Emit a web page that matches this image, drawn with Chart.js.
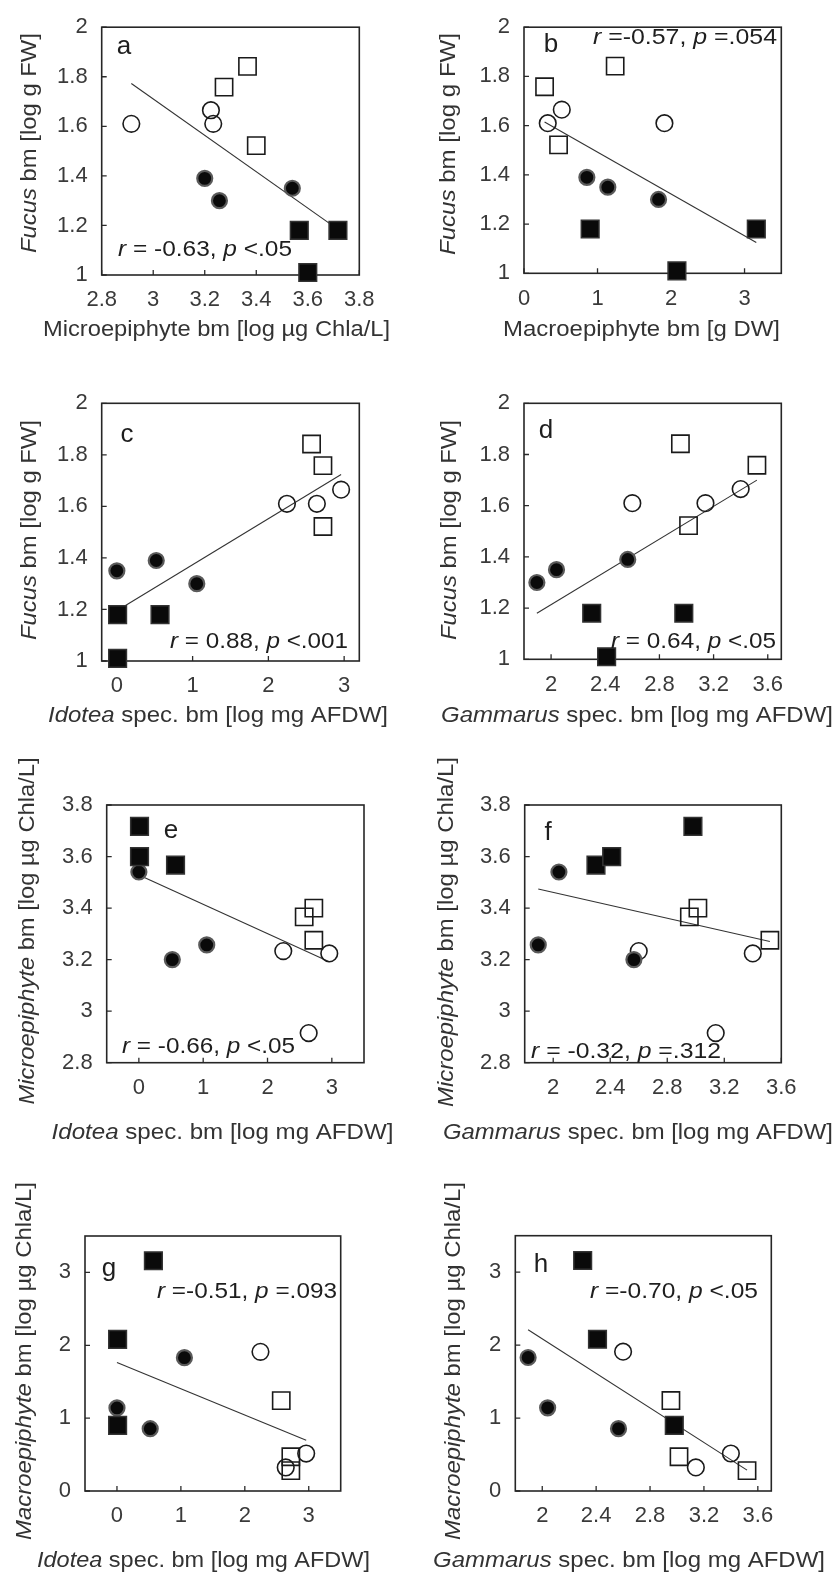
<!DOCTYPE html>
<html><head><meta charset="utf-8">
<script src="https://cdn.jsdelivr.net/npm/chart.js@4.4.0/dist/chart.umd.min.js"></script>
<style>
html,body{margin:0;padding:0;background:#fff;}
body{width:837px;height:1578px;position:relative;overflow:hidden;}
canvas{position:absolute;}
</style></head><body>
<script>
// ---- observations (12 mesocosms, 4 groups of 3) ----
const groups   = ['FS','FS','FS','FC','FC','FC','OC','OC','OC','OS','OS','OS'];
const fucus    = [1.18, 1.01, 1.18, 1.35, 1.39, 1.30, 1.61, 1.61, 1.665, 1.842, 1.758, 1.522];
const micro    = [3.567, 3.60, 3.717, 3.54, 3.20, 3.257, 3.233, 2.915, 3.224, 3.366, 3.275, 3.40];
const macro    = [3.16, 2.08, 0.90, 1.14, 0.855, 1.83, 1.91, 0.323, 0.514, 1.24, 0.28, 0.47];
const idotea   = [0.57, 0.01, 0.01, 0.00, 0.52, 1.055, 2.245, 2.64, 2.96, 2.57, 2.72, 2.72];
const gammarus = [2.30, 2.41, 2.98, 2.04, 2.566, 1.895, 2.60, 3.14, 3.40, 2.955, 3.52, 3.015];

// ---- regression line end points ----
const fitA = [[2.915, 1.773], [3.717, 1.184]];
const fitB = [[0.28, 1.615], [3.16, 1.125]];
const fitC = [[0.0, 1.195], [2.96, 1.724]];
const fitD = [[1.895, 1.18], [3.52, 1.70]];
const fitE = [[0.0, 3.528], [2.96, 3.192]];
const fitF = [[1.895, 3.474], [3.52, 3.27]];
const fitG = [[0.0, 1.764], [2.96, 0.695]];
const fitH = [[1.895, 2.21], [3.52, 0.286]];

// ---- tick values ----
const ticksFucus    = [1, 1.2, 1.4, 1.6, 1.8, 2];
const ticksMicro    = [2.8, 3, 3.2, 3.4, 3.6, 3.8];
const ticksMacroDW  = [0, 1, 2, 3];
const ticksIdotea   = [0, 1, 2, 3];
const ticksGammarus = [2, 2.4, 2.8, 3.2, 3.6];
const ticksMacroChl = [0, 1, 2, 3];

// ---- texts ----
const tFucus   = [{t:'Fucus', i:1}, {t:' bm [log g FW]'}];
const tMicroY  = [{t:'Microepiphyte', i:1}, {t:' bm [log µg Chla/L]'}];
const tMacroY  = [{t:'Macroepiphyte', i:1}, {t:' bm [log µg Chla/L]'}];
const tMicroX  = [{t:'Microepiphyte bm [log µg Chla/L]'}];
const tMacroX  = [{t:'Macroepiphyte bm [g DW]'}];
const tIdotea  = [{t:'Idotea', i:1}, {t:' spec. bm [log mg AFDW]'}];
const tGamm    = [{t:'Gammarus', i:1}, {t:' spec. bm [log mg AFDW]'}];
const st = (a, b) => [{t:'r', i:1}, {t:a}, {t:'p', i:1}, {t:b}];
const statsA = st(' = -0.63, ', ' <.05');
const statsB = st(' =-0.57, ', ' =.054');
const statsC = st(' = 0.88, ', ' <.001');
const statsD = st(' = 0.64, ', ' <.05');
const statsE = st(' = -0.66, ', ' <.05');
const statsF = st(' = -0.32, ', ' =.312');
const statsG = st(' =-0.51, ', ' =.093');
const statsH = st(' =-0.70, ', ' <.05');

const FONT = "'Liberation Sans', Arial, Helvetica, sans-serif";
const YW = 60, XH = 50; // reserved axis box sizes

const groupStyles = [
  {key:'FS', style:'rect',   r:12.5, fill:'#0a0a0a', stroke:'#333333', bw:1.5},
  {key:'FC', style:'circle', r:7.5,  fill:'#0a0a0a', stroke:'#5a5a5a', bw:2.2},
  {key:'OC', style:'circle', r:8.3,  fill:'rgba(0,0,0,0)', stroke:'#1a1a1a', bw:1.6},
  {key:'OS', style:'rect',   r:12.2, fill:'rgba(0,0,0,0)', stroke:'#1a1a1a', bw:1.6}
];

const panels = [
 {id:'a', x:micro, y:fucus, xT:ticksMicro, yT:ticksFucus, xr:[2.8,3.8], yr:[1,2], fit:fitA,
  cv:{x:0,y:0,w:419,h:350}, box:{l:101.7,r:359.3,t:15,b:275},
  letter:{t:'a',x:124,y:47}, stats:{s:statsA,x:118,w:174,y:250},
  xt:{s:tMicroX,cx:216.5,y:330,w:347}, yt:{s:tFucus,x:30,cy:143,w:220}},
 {id:'b', x:macro, y:fucus, xT:ticksMacroDW, yT:ticksFucus, xr:[0,3.5], yr:[1,2], fit:fitB,
  cv:{x:418,y:0,w:419,h:350}, box:{l:524,r:781.3,t:16,b:273.3},
  letter:{t:'b',x:551,y:45}, stats:{s:statsB,x:593,w:184,y:38},
  xt:{s:tMacroX,cx:641.5,y:330,w:277}, yt:{s:tFucus,x:449,cy:144,w:222}},
 {id:'c', x:idotea, y:fucus, xT:ticksIdotea, yT:ticksFucus, xr:[-0.2,3.2], yr:[1,2], fit:fitC,
  cv:{x:0,y:345,w:419,h:385}, box:{l:101.7,r:359.3,t:403.3,b:661},
  letter:{t:'c',x:127,y:435}, stats:{s:statsC,x:170,w:178,y:642},
  xt:{s:tIdotea,cx:218,y:716,w:340}, yt:{s:tFucus,x:30,cy:530,w:220}},
 {id:'d', x:gammarus, y:fucus, xT:ticksGammarus, yT:ticksFucus, xr:[1.8,3.7], yr:[1,2], fit:fitD,
  cv:{x:418,y:345,w:419,h:385}, box:{l:524,r:781.3,t:403.3,b:659.3},
  letter:{t:'d',x:546,y:431}, stats:{s:statsD,x:611,w:165,y:642},
  xt:{s:tGamm,cx:637,y:716,w:392}, yt:{s:tFucus,x:450,cy:530,w:220}},
 {id:'e', x:idotea, y:micro, xT:ticksIdotea, yT:ticksMicro, xr:[-0.5,3.5], yr:[2.8,3.8], fit:fitE,
  cv:{x:0,y:740,w:419,h:410}, box:{l:106.7,r:364,t:805,b:1062.7},
  letter:{t:'e',x:171,y:831}, stats:{s:statsE,x:122,w:173,y:1047},
  xt:{s:tIdotea,cx:222.5,y:1133,w:342}, yt:{s:tMicroY,x:28,cy:931,w:347}},
 {id:'f', x:gammarus, y:micro, xT:ticksGammarus, yT:ticksMicro, xr:[1.8,3.6], yr:[2.8,3.8], fit:fitF,
  cv:{x:418,y:740,w:419,h:410}, box:{l:524.7,r:781.3,t:805,b:1062.7},
  letter:{t:'f',x:548,y:833}, stats:{s:statsF,x:531,w:190,y:1052},
  xt:{s:tGamm,cx:638,y:1133,w:390}, yt:{s:tMicroY,x:447,cy:932,w:350}},
 {id:'g', x:idotea, y:macro, xT:ticksIdotea, yT:ticksMacroChl, xr:[-0.5,3.5], yr:[0,3.5], fit:fitG,
  cv:{x:0,y:1150,w:419,h:428}, box:{l:85,r:340.7,t:1236,b:1491},
  letter:{t:'g',x:109,y:1269}, stats:{s:statsG,x:157,w:180,y:1292},
  xt:{s:tIdotea,cx:203.5,y:1561,w:333}, yt:{s:tMacroY,x:25,cy:1361,w:358}},
 {id:'h', x:gammarus, y:macro, xT:ticksGammarus, yT:ticksMacroChl, xr:[1.8,3.7], yr:[0,3.5], fit:fitH,
  cv:{x:418,y:1150,w:419,h:428}, box:{l:515.3,r:771.3,t:1235.7,b:1491},
  letter:{t:'h',x:541,y:1265}, stats:{s:statsH,x:590,w:168,y:1292},
  xt:{s:tGamm,cx:629,y:1561,w:392}, yt:{s:tMacroY,x:454,cy:1361,w:358}}
];

function drawRich(ctx, segs, x, y, size, opts) {
  opts = opts || {};
  ctx.save();
  const fonts = segs.map(s => (s.i ? 'italic ' : '') + size + 'px ' + FONT);
  let W = 0; const ws = [];
  segs.forEach((s, k) => { ctx.font = fonts[k]; const w = ctx.measureText(s.t).width; ws.push(w); W += w; });
  const sx = opts.width ? opts.width / W : 1;
  ctx.translate(x, y);
  if (opts.rotate) ctx.rotate(opts.rotate);
  ctx.scale(sx, 1);
  let cx = opts.align === 'center' ? -W / 2 : 0;
  ctx.textBaseline = 'middle'; ctx.textAlign = 'left';
  ctx.fillStyle = opts.color || '#333';
  segs.forEach((s, k) => { ctx.font = fonts[k]; ctx.fillText(s.t, cx, 0); cx += ws[k]; });
  ctx.restore();
}

function decor(p) {
  const ox = p.cv.x, oy = p.cv.y;
  return {
    id: 'decor' + p.id,
    beforeDatasetsDraw(chart) {
      const {ctx, chartArea: a, scales: {x, y}} = chart;
      ctx.save();
      ctx.strokeStyle = '#2b2b2b'; ctx.lineWidth = 1.3;
      ctx.beginPath();
      p.xT.forEach(v => { const px = x.getPixelForValue(v); ctx.moveTo(px, a.bottom); ctx.lineTo(px, a.bottom - 5); });
      p.yT.forEach(v => { const py = y.getPixelForValue(v); ctx.moveTo(a.left, py); ctx.lineTo(a.left + 5, py); });
      ctx.stroke();
      ctx.lineWidth = 1.6; ctx.strokeStyle = '#262626';
      ctx.strokeRect(a.left, a.top, a.right - a.left, a.bottom - a.top);
      ctx.restore();
    },
    afterDraw(chart) {
      const ctx = chart.ctx;
      drawRich(ctx, [{t:p.letter.t}], p.letter.x - ox, p.letter.y - oy, 26, {align:'center', color:'#1e1e1e'});
      drawRich(ctx, p.stats.s, p.stats.x - ox, p.stats.y - oy, 22, {width:p.stats.w, color:'#1e1e1e'});
      drawRich(ctx, p.xt.s, p.xt.cx - ox, p.xt.y - oy, 22, {align:'center', width:p.xt.w, color:'#333'});
      drawRich(ctx, p.yt.s, p.yt.x - ox, p.yt.cy - oy, 22, {align:'center', width:p.yt.w, rotate:-Math.PI/2, color:'#333'});
    }
  };
}

const fmt = v => String(Number(Number(v).toFixed(2)));

panels.forEach(p => {
  const cv = document.createElement('canvas');
  cv.width = p.cv.w; cv.height = p.cv.h;
  cv.style.left = p.cv.x + 'px'; cv.style.top = p.cv.y + 'px';
  cv.style.width = p.cv.w + 'px'; cv.style.height = p.cv.h + 'px';
  document.body.appendChild(cv);
  const pad = {
    left: p.box.l - p.cv.x - YW, right: p.cv.x + p.cv.w - p.box.r,
    top: p.box.t - p.cv.y, bottom: p.cv.y + p.cv.h - p.box.b - XH
  };
  const datasets = groupStyles.map(g => ({
    type: 'scatter',
    data: groups.map((gr, i) => gr === g.key ? {x: p.x[i], y: p.y[i]} : null).filter(d => d),
    pointStyle: g.style, pointRadius: g.r, pointHoverRadius: g.r,
    backgroundColor: g.fill, borderColor: g.stroke, borderWidth: g.bw,
    clip: false
  }));
  datasets.push({
    type: 'scatter', showLine: true,
    data: p.fit.map(([x, y]) => ({x, y})),
    borderColor: '#333', borderWidth: 1.1, pointRadius: 0, fill: false, clip: false
  });
  const tickFont = {family: FONT, size: 22};
  new Chart(cv, {
    type: 'scatter',
    data: {datasets},
    options: {
      responsive: false, animation: false, devicePixelRatio: 1, events: [],
      layout: {padding: pad},
      plugins: {legend: {display: false}, tooltip: {enabled: false}},
      scales: {
        x: {
          type: 'linear', position: 'bottom', min: p.xr[0], max: p.xr[1],
          afterBuildTicks: s => { s.ticks = p.xT.map(v => ({value: v})); },
          afterFit: s => { s.height = XH; },
          grid: {display: false, drawTicks: false}, border: {display: false},
          ticks: {autoSkip: false, maxRotation: 0, minRotation: 0, padding: 12, color: '#3a3a3a', font: tickFont, callback: fmt}
        },
        y: {
          type: 'linear', position: 'left', min: p.yr[0], max: p.yr[1],
          afterBuildTicks: s => { s.ticks = p.yT.map(v => ({value: v})); },
          afterFit: s => { s.width = YW; },
          grid: {display: false, drawTicks: false}, border: {display: false},
          ticks: {autoSkip: false, padding: 14, color: '#3a3a3a', font: tickFont, callback: fmt}
        }
      }
    },
    plugins: [decor(p)]
  });
});
</script>
</body></html>
